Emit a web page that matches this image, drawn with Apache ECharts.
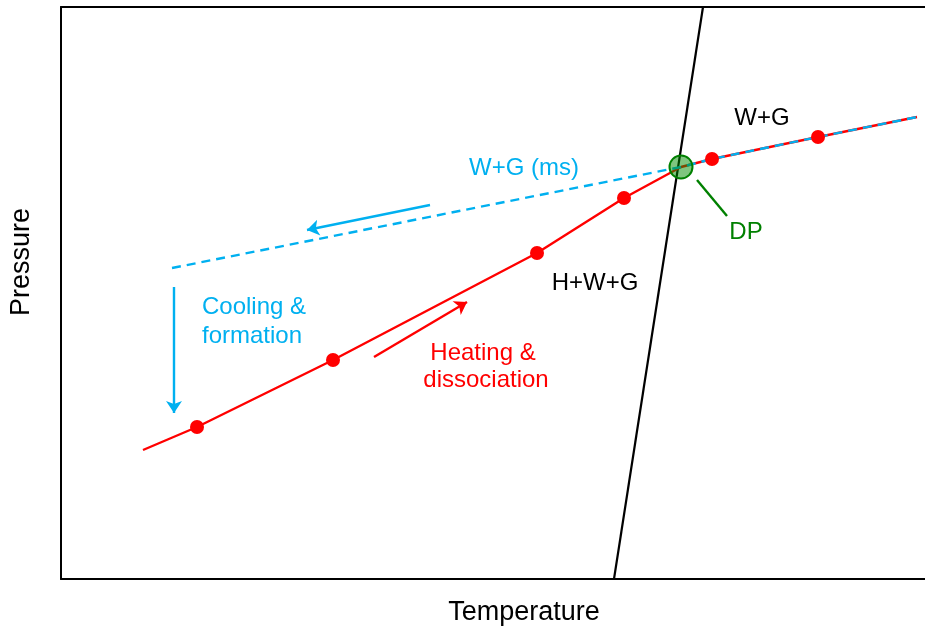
<!DOCTYPE html>
<html>
<head>
<meta charset="utf-8">
<script src="https://cdn.jsdelivr.net/npm/echarts@6/dist/echarts.min.js"></script>
<style>html,body{margin:0;padding:0;background:#fff}#c{width:925px;height:633px}</style>
</head>
<body>
<div id="c"></div>
<script>
// Data (arbitrary units: temperature on x, pressure on y)
const heatingPath = [[82,129],[136,152],[272,219],[476,326],[563,381],[620,412],[651,420],[757,442],[856,462]];
const measuredPoints = [[136,152],[272,219],[476,326],[563,381],[651,420],[757,442]];
const metastablePath = [[111,311],[620,412],[651,420],[757,442],[856,462]];
const hydrateBoundary = [[553,0],[642,572]];
const dissociationPoint = [[620,412]];
const coolingArrow1 = [[369,374],[246,349]];
const coolingArrow2 = [[113,292],[113,166]];
const heatingArrow = [[313,222],[406,277]];
const dpLeader = [[636,399],[666,363]];
const xRange = [0, 864];
const yRange = [0, 572];

const RED = '#FF0000', BLUE = '#00B0F0', GREEN = '#008000';
const FONT = 'Liberation Sans, Arial, sans-serif';

const chart = echarts.init(document.getElementById('c'), null, {renderer: 'canvas'});
const axisLine = {show: true, lineStyle: {color: '#000', width: 2}};
chart.setOption({
  animation: false,
  grid: {left: 61, right: 0, top: 7, bottom: 54},
  xAxis: [
    {type: 'value', min: xRange[0], max: xRange[1], position: 'bottom', axisLine: axisLine, axisTick: {show: false}, axisLabel: {show: false}, splitLine: {show: false}},
    {type: 'value', min: xRange[0], max: xRange[1], position: 'top', axisLine: axisLine, axisTick: {show: false}, axisLabel: {show: false}, splitLine: {show: false}}
  ],
  yAxis: {type: 'value', min: yRange[0], max: yRange[1], axisLine: axisLine, axisTick: {show: false}, axisLabel: {show: false}, splitLine: {show: false}},
  series: [
    {type: 'line', data: hydrateBoundary, symbol: 'none', lineStyle: {color: '#000', width: 2.2}, z: 2},
    {type: 'line', data: heatingPath, symbol: 'none', lineStyle: {color: RED, width: 2.4}, z: 3},
    {type: 'line', data: metastablePath, symbol: 'none', lineStyle: {color: BLUE, width: 2.4, type: [9, 6]}, z: 4},
    {type: 'scatter', data: measuredPoints, symbol: 'circle', symbolSize: 14, itemStyle: {color: RED, opacity: 1}, z: 5},
    {type: 'scatter', data: dissociationPoint, symbol: 'circle', symbolSize: 23, itemStyle: {color: 'rgba(0,140,0,0.5)', borderColor: GREEN, borderWidth: 2, opacity: 1}, z: 6},
    {type: 'lines', coordinateSystem: 'cartesian2d', symbol: ['none', 'arrow'], symbolSize: [0, 12],
      lineStyle: {width: 2.4, opacity: 1},
      data: [
        {coords: coolingArrow1, lineStyle: {color: BLUE}},
        {coords: coolingArrow2, lineStyle: {color: BLUE}},
        {coords: heatingArrow, lineStyle: {color: RED}}
      ], z: 7},
    {type: 'lines', coordinateSystem: 'cartesian2d', symbol: 'none',
      lineStyle: {width: 2.4, opacity: 1, color: GREEN},
      data: [{coords: dpLeader}], z: 7}
  ],
  graphic: [
    {type: 'text', x: 524, y: 613, style: {text: 'Temperature', font: '27px ' + FONT, fill: '#000', textAlign: 'center', textVerticalAlign: 'middle'}},
    {type: 'text', rotation: Math.PI / 2, x: 22, y: 262, style: {text: 'Pressure', font: '27px ' + FONT, fill: '#000', textAlign: 'center', textVerticalAlign: 'middle'}},
    {type: 'text', x: 524, y: 168, style: {text: 'W+G (ms)', font: '24px ' + FONT, fill: BLUE, textAlign: 'center', textVerticalAlign: 'middle'}},
    {type: 'text', x: 762, y: 118, style: {text: 'W+G', font: '24px ' + FONT, fill: '#000', textAlign: 'center', textVerticalAlign: 'middle'}},
    {type: 'text', x: 746, y: 232, style: {text: 'DP', font: '24px ' + FONT, fill: GREEN, textAlign: 'center', textVerticalAlign: 'middle'}},
    {type: 'text', x: 595, y: 283, style: {text: 'H+W+G', font: '24px ' + FONT, fill: '#000', textAlign: 'center', textVerticalAlign: 'middle'}},
    {type: 'text', x: 202, y: 307, style: {text: 'Cooling &', font: '24px ' + FONT, fill: BLUE, textAlign: 'left', textVerticalAlign: 'middle'}},
    {type: 'text', x: 202, y: 336, style: {text: 'formation', font: '24px ' + FONT, fill: BLUE, textAlign: 'left', textVerticalAlign: 'middle'}},
    {type: 'text', x: 483, y: 353, style: {text: 'Heating &', font: '24px ' + FONT, fill: RED, textAlign: 'center', textVerticalAlign: 'middle'}},
    {type: 'text', x: 486, y: 380, style: {text: 'dissociation', font: '24px ' + FONT, fill: RED, textAlign: 'center', textVerticalAlign: 'middle'}}
  ]
});
</script>
</body>
</html>
